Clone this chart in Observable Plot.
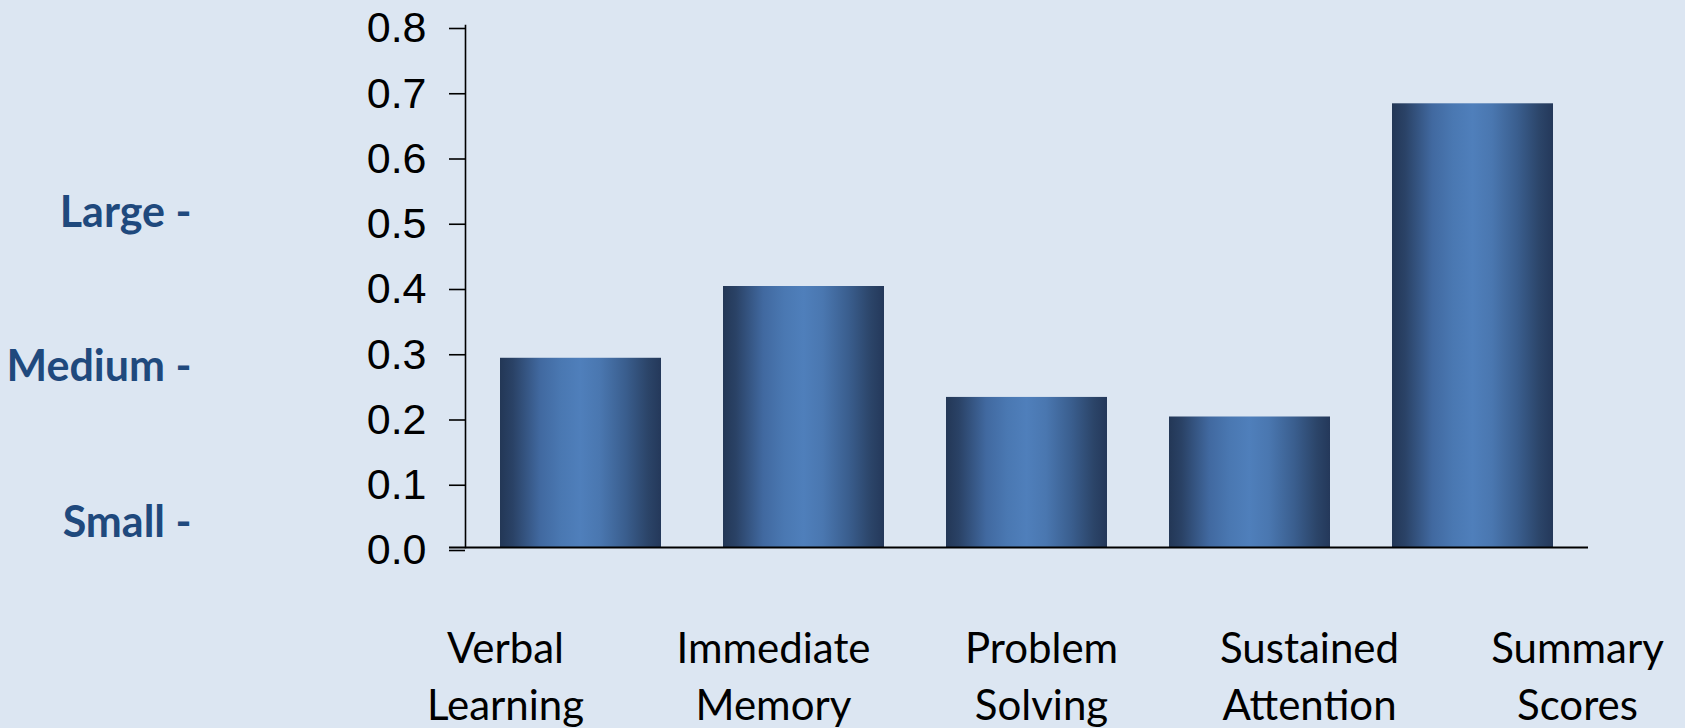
<!DOCTYPE html>
<html>
<head>
<meta charset="utf-8">
<script src="https://cdn.jsdelivr.net/npm/d3@7"></script>
<script src="https://cdn.jsdelivr.net/npm/@observablehq/plot@0.6"></script>
<style>
  html, body { margin: 0; padding: 0; background: #dce6f2; overflow: hidden; }
  #chart svg { display: block; }
</style>
</head>
<body>
<div id="chart"></div>
<script>
const categories = ["Verbal Learning", "Immediate Memory", "Problem Solving", "Sustained Attention", "Summary Scores"];
const tickLabels = ["Verbal\nLearning", "Immediate\nMemory", "Problem\nSolving", "Sustained\nAttention", "Summary\nScores"];
const values = [0.29, 0.40, 0.23, 0.20, 0.68];
const yTicks = [0, 0.1, 0.2, 0.3, 0.4, 0.5, 0.6, 0.7, 0.8];
const sizeLabels = ["Large -", "Medium -", "Small -"];
const sizeLevels = [0.513, 0.276, 0.037];

const data = categories.map((c, i) => ({category: c, value: values[i]}));

const main = Plot.plot({
  width: 1685,
  height: 600,
  marginLeft: 465,
  marginRight: 97,
  marginTop: 25,
  marginBottom: 53,
  style: {background: "transparent", color: "#000"},
  x: {domain: categories, paddingInner: 0.28, paddingOuter: 0.147, axis: null},
  y: {domain: [0, 0.8], axis: null},
  marks: [
    Plot.barY(data, {x: "category", y: "value", fill: "url(#barGrad)"}),
    Plot.frame({anchor: "left", stroke: "#000", strokeWidth: 1.6}),
    Plot.axisY({
      ticks: yTicks, tickSize: 16, tickPadding: 23, tickFormat: d => d.toFixed(1),
      fontSize: 43, fontFamily: "Liberation Sans, Arial, sans-serif", dy: 3,
      label: null, stroke: "#000", strokeWidth: 1.6
    }),
    Plot.ruleY([0], {insetLeft: -16, stroke: "#000", strokeWidth: 2}),
    Plot.text(sizeLabels, {
      y: sizeLevels, text: d => d, frameAnchor: "left", textAnchor: "end", dx: -274,
      fontWeight: "bold", fontSize: 43, fontFamily: "Lato, sans-serif", fill: "#1f497d"
    })
  ]
});

// gradient definition
const ns = "http://www.w3.org/2000/svg";
const defs = document.createElementNS(ns, "defs");
const grad = document.createElementNS(ns, "linearGradient");
grad.setAttribute("id", "barGrad");
grad.setAttribute("x1", "0"); grad.setAttribute("x2", "1");
grad.setAttribute("y1", "0"); grad.setAttribute("y2", "0");
[[0, "#233756"], [0.08, "#2a4266"], [0.25, "#4169a0"], [0.38, "#4a78b2"], [0.5, "#4f7fbb"],
 [0.62, "#4a77b0"], [0.78, "#3a5e8e"], [0.92, "#2b4468"], [1, "#24385a"]].forEach(([o, c]) => {
  const s = document.createElementNS(ns, "stop");
  s.setAttribute("offset", o); s.setAttribute("stop-color", c);
  grad.appendChild(s);
});
defs.appendChild(grad);
main.insertBefore(defs, main.firstChild);

const labels = Plot.plot({
  width: 1685,
  height: 128,
  marginLeft: 505,
  marginRight: 108,
  marginTop: 0,
  marginBottom: 0,
  style: {background: "transparent", color: "#000", overflow: "visible"},
  x: {type: "point", domain: categories, padding: 0, axis: null},
  marks: [
    Plot.text(categories, {
      x: d => d, text: (d, i) => tickLabels[i], frameAnchor: "top", lineAnchor: "top", dy: 22,
      fontSize: 42, lineHeight: 1.357, fontFamily: "Lato, sans-serif", fill: "#000"
    })
  ]
});

document.getElementById("chart").append(main, labels);
</script>
</body>
</html>
